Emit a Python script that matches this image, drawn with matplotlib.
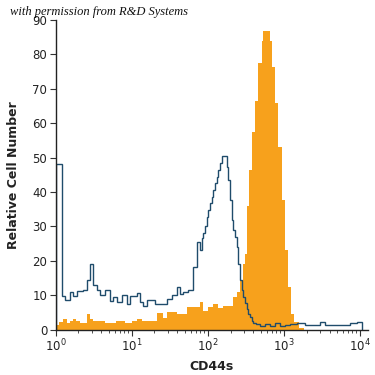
import numpy as np
import matplotlib
matplotlib.use("Agg")
from matplotlib import pyplot as plt
from matplotlib import font_manager
from matplotlib.ticker import FixedLocator, NullFormatter, LogLocator

# isotype control (blue outline), log10 bin edges and relative counts
control_log_edges = [0.0, 0.085, 0.125, 0.191, 0.230, 0.283, 0.361, 0.414, 0.453, 0.493,
                     0.545, 0.585, 0.650, 0.716, 0.756, 0.808, 0.874, 0.940, 0.979, 1.071,
                     1.110, 1.150, 1.202, 1.307, 1.465, 1.531, 1.597, 1.636, 1.675, 1.741,
                     1.807, 1.859, 1.899, 1.925, 1.945, 1.965, 1.987, 2.008, 2.030, 2.052,
                     2.074, 2.096, 2.118, 2.139, 2.162, 2.184, 2.250, 2.271, 2.293, 2.315,
                     2.336, 2.359, 2.381, 2.402, 2.424, 2.447, 2.468, 2.490, 2.512, 2.533,
                     2.556, 2.578, 2.599, 2.635, 2.687, 2.753, 2.818, 2.884, 2.950, 3.015,
                     3.081, 3.173, 3.278, 3.475, 3.541, 3.869, 3.962, 4.028]
control_counts = [48, 9.7, 8.6, 11, 9.7, 11.2, 11.5, 14.5, 19, 13,
                  11.5, 10, 11.5, 8.3, 9.6, 8, 10, 7.5, 9.8, 10.5,
                  8, 6.8, 8.7, 7.5, 9, 10, 12.3, 10.4, 10.8, 11.6,
                  18.2, 25.5, 23, 26.5, 28, 30, 32.7, 34.7, 36.7, 38.6,
                  40.5, 42.5, 44.4, 46.4, 48.4, 50.4, 47.3, 43.4, 37.6, 31.8,
                  28.9, 27, 24, 19.2, 14.3, 11.4, 9.4, 7.6, 6.1, 4.6,
                  3.6, 2.6, 2, 1.5, 1.0, 1.6, 1.1, 1.8, 1.1, 1.2,
                  1.5, 2, 1.4, 2.1, 1.4, 2, 2.3]

# CD44 stained cells (orange fill)
cd44_log_edges = [0.0, 0.040, 0.099, 0.151, 0.190, 0.230, 0.270, 0.322, 0.414, 0.450,
                  0.493, 0.585, 0.650, 0.716, 0.800, 0.913, 1.000, 1.071, 1.140, 1.202,
                  1.334, 1.413, 1.465, 1.600, 1.728, 1.899, 1.938, 2.000, 2.070, 2.140,
                  2.201, 2.333, 2.385, 2.424, 2.464, 2.490, 2.517, 2.543, 2.582, 2.622,
                  2.661, 2.714, 2.727, 2.819, 2.845, 2.884, 2.924, 2.976, 3.016, 3.055,
                  3.101, 3.140, 3.207, 3.272]
cd44_counts = [1.2, 2.2, 3, 1.8, 2.5, 3.2, 2.4, 2, 4.4, 3,
               2.5, 2.6, 1.9, 2, 2.6, 1.8, 2.4, 3.2, 2.5, 2.6,
               4.7, 3.5, 5, 4.4, 6.5, 8, 5.5, 6.5, 7.5, 6.2,
               7, 9.4, 11, 14.3, 19.2, 22, 36, 46.4, 57.5, 66.3,
               77.5, 84, 86.7, 84, 76.4, 65.9, 53, 37.6, 23, 12.3,
               4.6, 2.1, 0.6]

y_ticks = [0, 10, 20, 30, 40, 50, 60, 70, 80, 90]
x_ticks = [1, 10, 100, 1000, 10000]
x_ticklabels = [r"$10^{0}$", r"$10^{1}$", r"$10^{2}$", r"$10^{3}$", r"$10^{4}$"]

orange = "#f7a11c"
blue = "#1f4c6b"
tick_font = font_manager.FontProperties(family="DejaVu Sans", size=8.5)
label_font = font_manager.FontProperties(family="DejaVu Sans", weight="bold", size=9)

fig = plt.figure(figsize=(3.75, 3.75), dpi=100)
ax = fig.add_axes([0.148, 0.121, 0.833, 0.826])

ax.stairs(cd44_counts, 10 ** np.array(cd44_log_edges), fill=True, color=orange,
          linewidth=0)
ax.stairs(control_counts, 10 ** np.array(control_log_edges), baseline=0, color=blue,
          linewidth=1.0)

ax.set_xscale("log")
ax.set_xlim(1, 10 ** 4.106)
ax.set_ylim(0, 90)

ax.xaxis.set_major_locator(FixedLocator(x_ticks))
ax.xaxis.set_minor_locator(LogLocator(base=10, subs=np.arange(2, 10)))
ax.xaxis.set_minor_formatter(NullFormatter())
ax.set_xticks(x_ticks)
ax.set_xticklabels(x_ticklabels, fontproperties=tick_font)
ax.set_yticks(y_ticks)
ax.set_yticklabels([str(v) for v in y_ticks], fontproperties=tick_font)

ax.tick_params(axis="both", which="major", direction="out", length=4, width=0.8,
               color="#333333", labelcolor="#222222", pad=2)
ax.tick_params(axis="x", which="minor", direction="out", length=2.5, width=0.6,
               color="#333333")

for side in ["top", "right"]:
    ax.spines[side].set_visible(False)
for side in ["left", "bottom"]:
    ax.spines[side].set_linewidth(1.0)
    ax.spines[side].set_color("#222222")

ax.set_xlabel("CD44s", fontproperties=label_font, color="#222222", labelpad=4)
ax.set_ylabel("Relative Cell Number", fontproperties=label_font, color="#222222",
              labelpad=9)

fig.text(0.027, 0.952, "with permission from R&D Systems",
         family=["Liberation Serif", "DejaVu Serif"],
         style="italic", fontsize=9, color="#111111", va="bottom")

fig.savefig("out.png", dpi=100)
